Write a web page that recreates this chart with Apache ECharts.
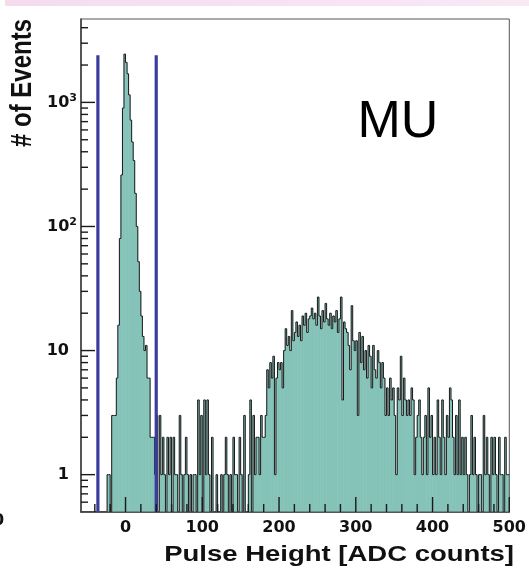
<!DOCTYPE html>
<html>
<head>
<meta charset="utf-8">
<script src="https://cdn.jsdelivr.net/npm/echarts@6/dist/echarts.min.js"></script>
<style>
  html, body { margin: 0; padding: 0; background: #ffffff; }
  #chart { width: 529px; height: 575px; }
</style>
</head>
<body>
<div id="chart"></div>
<script>
// Pulse-height spectrum: fixed-width bins starting at binLow (ADC counts)
const binLow = -58;
const binWidth = 2;
const counts = [
  0, 0, 0, 0, 0, 0, 0, 0, 0, 0,            // -58 .. -40
  0, 0, 0, 0, 0, 0, 0, 1, 1, 0,            // -38 .. -20
  3, 3, 3, 6, 16, 80, 260, 900, 2450, 2100, // -18 .. 0
  1700, 1150, 720, 480, 340, 185, 100, 52, 30, 19, // 2 .. 20
  13, 10, 11, 6, 6, 2, 2, 2, 1, 3,         // 22 .. 40
  0, 3, 1, 2, 1, 0, 2, 1, 2, 0,            // 42 .. 60
  2, 1, 1, 0, 3, 1, 0, 1, 2, 1,            // 62 .. 80
  0, 1, 0, 1, 1, 0, 4, 1, 3, 0,            // 82 .. 100
  4, 1, 4, 1, 0, 2, 0, 0, 1, 0,            // 102 .. 120
  0, 1, 0, 1, 2, 1, 0, 1, 0, 2,            // 122 .. 140
  1, 1, 0, 2, 1, 0, 3, 0, 0, 1,            // 142 .. 160
  4, 0, 3, 1, 2, 2, 1, 3, 2, 2,            // 162 .. 180
  3, 7, 5, 8, 6, 9, 1, 6, 8, 7,            // 182 .. 200
  8, 5, 10, 15, 11, 13, 10, 21, 12, 14,    // 202 .. 220
  17, 13, 16, 12, 19, 16, 20, 14, 18, 19,  // 222 .. 240
  22, 18, 20, 16, 27, 19, 15, 21, 17, 24,  // 242 .. 260
  18, 16, 20, 15, 19, 17, 21, 14, 18, 27,  // 262 .. 280
  4, 17, 15, 14, 11, 7, 23, 12, 10, 12,    // 282 .. 300
  3, 14, 8, 13, 7, 10, 6, 11, 9, 5,        // 302 .. 320
  11, 7, 6, 10, 8, 5, 8, 6, 3, 5,          // 322 .. 340
  3, 6, 4, 5, 3, 1, 5, 4, 9, 3,            // 342 .. 360
  6, 4, 3, 4, 3, 5, 4, 1, 2, 3,            // 362 .. 380
  4, 2, 1, 2, 3, 1, 5, 2, 3, 1,            // 382 .. 400
  2, 1, 4, 2, 1, 4, 2, 1, 3, 2,            // 402 .. 420
  5, 4, 2, 1, 3, 1, 4, 1, 2, 1,            // 422 .. 440
  2, 1, 0, 1, 3, 1, 2, 1, 0, 1,            // 442 .. 460
  1, 0, 3, 1, 2, 1, 0, 2, 1, 2,            // 462 .. 480
  1, 0, 2, 1, 1, 0, 2, 1, 1                // 482 .. 498
];

// Selection cut positions (ADC counts) and the height the cut markers reach
const cutPositions = [-36, 40];
const cutHeight = 2400;

// Axis ranges and tick values
const xRange = [-58, 500];
const yRange = [0.5, 4700];
const xTickValues = [0, 100, 200, 300, 400, 500];
const xMinorTicks = [-40, -20, 20, 40, 60, 80, 120, 140, 160, 180, 220, 240, 260, 280,
                     320, 340, 360, 380, 420, 440, 460, 480];
const yTickValues = [1, 10, 100, 1000];
const yMinorTicks = [0.6, 0.7, 0.8, 0.9, 2, 3, 4, 5, 6, 7, 8, 9,
                     20, 30, 40, 50, 60, 70, 80, 90,
                     200, 300, 400, 500, 600, 700, 800, 900, 2000, 3000, 4000];

const FILL = '#85c3b9';
const OUTLINE = '#1a1a1a';
const CUT = '#3a3d9e';
const TICK = '#1a1a1a';
const LABEL_FONT = '"DejaVu Sans"';

const binData = counts.map((c, i) => [
  binLow + i * binWidth,
  binLow + (i + 1) * binWidth,
  c,
  i > 0 ? counts[i - 1] : 0
]);

function renderBin(params, api) {
  const lo = api.value(0);
  const hi = api.value(1);
  const c = api.value(2);
  const prev = api.value(3);
  const pL = api.coord([lo, yRange[0]]);
  const pR = api.coord([hi, yRange[0]]);
  const yOf = v => (v > 0 ? api.coord([lo, v])[1] : pL[1]);
  const top = yOf(c);
  const prevTop = yOf(prev);
  const children = [];
  if (c > 0) {
    children.push({
      type: 'rect',
      z2: 0,
      shape: { x: pL[0] - 0.3, y: top, width: pR[0] - pL[0] + 0.6, height: pL[1] - top },
      style: { fill: FILL }
    });
  }
  children.push({
    type: 'polyline',
    z2: 1,
    shape: { points: [[pL[0], prevTop], [pL[0], top], [pR[0], top]] },
    style: { stroke: OUTLINE, lineWidth: 1, fill: null }
  });
  return { type: 'group', children };
}

function renderCut(params, api) {
  const x = api.value(0);
  const h = api.value(1);
  const p0 = api.coord([x, yRange[0]]);
  const p1 = api.coord([x, h]);
  return {
    type: 'line',
    shape: { x1: p0[0], y1: p0[1], x2: p1[0], y2: p1[1] },
    style: { stroke: CUT, lineWidth: 3.2 }
  };
}

function yLabel(v) {
  const e = Math.round(Math.log10(v));
  if (e === 0) return '{b|1}{sp|}';
  if (e === 1) return '{b|10}{sp|}';
  return '{b|10}{sup|' + e + '}';
}

const chart = echarts.init(document.getElementById('chart'), null, { renderer: 'canvas' });

chart.setOption({
  backgroundColor: '#ffffff',
  animation: false,
  grid: { left: 81, right: 13.5, top: 19, bottom: 63, show: false },
  xAxis: {
    type: 'value', min: xRange[0], max: xRange[1],
    axisLine: { show: true, onZero: false, lineStyle: { color: '#222222', width: 1.5 } },
    axisTick: { show: false },
    axisLabel: { show: true, customValues: xTickValues, margin: 8,
                 fontFamily: LABEL_FONT, fontWeight: 'bold', fontSize: 16, color: '#111111' },
    splitLine: { show: false }
  },
  yAxis: {
    type: 'log', logBase: 10, min: yRange[0], max: yRange[1],
    axisLine: { show: true, onZero: false, lineStyle: { color: '#222222', width: 1.5 } },
    axisTick: { show: false },
    axisLabel: {
      show: true, customValues: yTickValues, margin: 4,
      formatter: yLabel,
      rich: {
        b: { fontFamily: LABEL_FONT, fontWeight: 'bold', fontSize: 16, color: '#111111' },
        sup: { fontFamily: LABEL_FONT, fontWeight: 'bold', fontSize: 11, color: '#111111',
               padding: [0, 0, 9, 0] },
        sp: { width: 8 }
      }
    },
    splitLine: { show: false },
    minorTick: { show: false }
  },
  series: [{
    name: 'counts',
    type: 'custom',
    renderItem: renderBin,
    encode: { x: [0, 1], y: 2 },
    data: binData,
    clip: true,
    z: 2,
    silent: true
  }, {
    name: 'cuts',
    type: 'custom',
    renderItem: renderCut,
    encode: { x: 0, y: 1 },
    data: cutPositions.map(x => [x, cutHeight]),
    z: 6,
    silent: true
  }]
});

// Frame and inward tick marks, placed through the grid's coordinate conversion
const toPx = (x, y) => chart.convertToPixel({ gridIndex: 0 }, [x, y]);
const overlay = [];
const corner0 = toPx(xRange[0], yRange[0]);
const corner1 = toPx(xRange[1], yRange[1]);
overlay.push({
  type: 'rect', z: 30,
  shape: { x: corner0[0], y: corner1[1], width: corner1[0] - corner0[0], height: corner0[1] - corner1[1] },
  style: { fill: null, stroke: '#555555', lineWidth: 1 }
});
const TW = 1.4;
function addXTick(v, len) {
  const p = toPx(v, yRange[0]);
  overlay.push({ type: 'rect', z: 31,
    shape: { x: p[0] - TW / 2, y: p[1] - len, width: TW, height: len },
    style: { fill: TICK } });
}
function addYTick(v, len) {
  const p = toPx(xRange[0], v);
  overlay.push({ type: 'rect', z: 31,
    shape: { x: p[0], y: p[1] - TW / 2, width: len, height: TW },
    style: { fill: TICK } });
}
xTickValues.forEach(v => addXTick(v, 15));
xMinorTicks.forEach(v => addXTick(v, 8));
yTickValues.forEach(v => addYTick(v, 14));
yMinorTicks.forEach(v => addYTick(v, 7));

chart.setOption({
  graphic: overlay.concat([
    {
      type: 'rect', x: 5, y: 0, z: 0,
      shape: { width: 524, height: 6 },
      style: {
        fill: new echarts.graphic.LinearGradient(0, 0, 1, 0, [
          { offset: 0, color: '#f4dcee' },
          { offset: 1, color: '#fae8f5' }
        ])
      }
    },
    {
      type: 'text', x: 22.5, y: 83, rotation: Math.PI / 2, scaleY: 1.25,
      style: { text: '# of Events', font: 'bold 24px "Liberation Sans"', fill: '#111111',
               align: 'center', verticalAlign: 'middle' }
    },
    {
      type: 'text', x: 514, y: 555, scaleX: 1.25,
      style: { text: 'Pulse Height [ADC counts]', font: 'bold 22px "Liberation Sans"',
               fill: '#111111', align: 'right', verticalAlign: 'middle' }
    },
    {
      type: 'text', x: 357.5, y: 123,
      style: { text: 'MU', font: 'normal 52px "Liberation Sans"', fill: '#000000',
               align: 'left', verticalAlign: 'middle' }
    },
    {
      type: 'text', x: -7, y: 521,
      style: { text: '0', font: 'bold 16px "DejaVu Sans"', fill: '#111111',
               align: 'left', verticalAlign: 'middle' }
    }
  ])
});
</script>
</body>
</html>
